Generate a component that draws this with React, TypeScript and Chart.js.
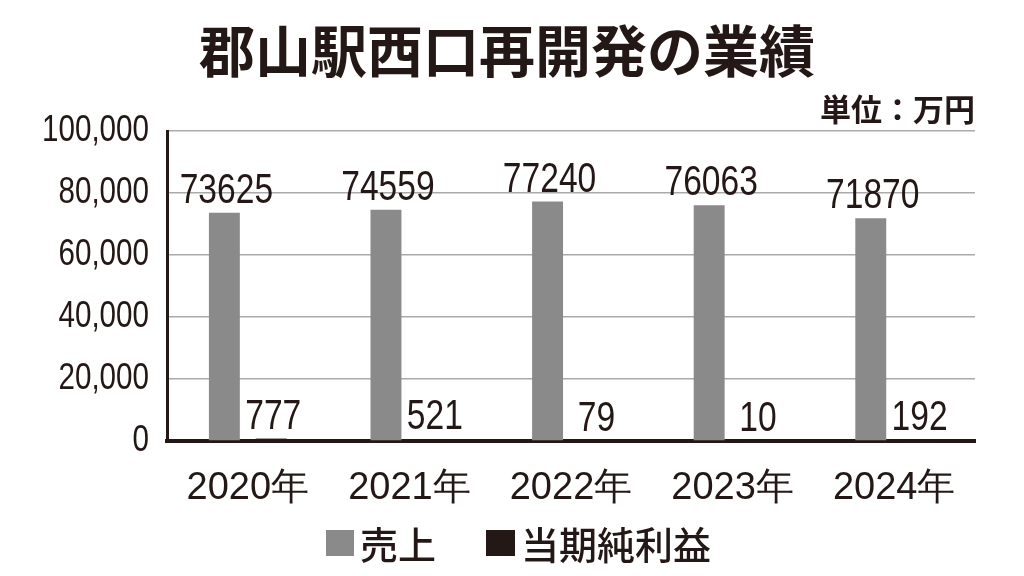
import React, { useEffect, useRef } from "react";
import { Chart, registerables } from "chart.js";

Chart.register(...registerables);

const categories = ["2020年", "2021年", "2022年", "2023年", "2024年"];
const salesValues = [73625, 74559, 77240, 76063, 71870];
const profitValues = [777, 521, 79, 10, 192];
const seriesNames = ["売上", "当期純利益"];
const chartTitle = "郡山駅西口再開発の業績";
const unitLabel = "単位：万円";

const GRAY = "#8a8a8a";
const DARK = "#231815";
const NUM_FONT = "'Liberation Sans', Arial, sans-serif";
const CJK_FONT = "'Noto Sans CJK JP', 'Noto Sans', sans-serif";
const NARROW = 0.8;

const narrowTextPlugin = {
  id: "narrowText",
  afterDraw(chart: any) {
    const ctx = chart.ctx;
    ctx.save();
    ctx.fillStyle = DARK;
    // y-axis tick labels, from the library's scale
    const ys = chart.scales.y;
    ctx.font = `37px ${NUM_FONT}`;
    ctx.textAlign = "right";
    ctx.textBaseline = "middle";
    ys.ticks.forEach((t: any, i: number) => {
      const y = ys.getPixelForTick(i);
      const label = Number(t.value).toLocaleString("en-US");
      ctx.save();
      ctx.translate(ys.right - 18, y);
      ctx.scale(NARROW, 1);
      ctx.fillText(label, 0, 0);
      ctx.restore();
    });
    // value labels above the bars
    ctx.font = `42px ${NUM_FONT}`;
    ctx.textAlign = "center";
    ctx.textBaseline = "alphabetic";
    chart.data.datasets.forEach((ds: any, i: number) => {
      const meta = chart.getDatasetMeta(i);
      meta.data.forEach((el: any, j: number) => {
        ctx.save();
        ctx.translate(el.x + 2, el.y - 10);
        ctx.scale(NARROW, 1);
        ctx.fillText(String(ds.data[j]), 0, 0);
        ctx.restore();
      });
    });
    ctx.restore();
  },
};

export default function App() {
  const canvasRef = useRef<HTMLCanvasElement | null>(null);

  useEffect(() => {
    if (!canvasRef.current) return;
    const chart = new Chart(canvasRef.current, {
      type: "bar",
      data: {
        labels: categories,
        datasets: [
          {
            label: seriesNames[0],
            data: salesValues,
            backgroundColor: GRAY,
            categoryPercentage: 0.58,
            barPercentage: 0.66,
          },
          {
            label: seriesNames[1],
            data: profitValues,
            backgroundColor: DARK,
            categoryPercentage: 0.58,
            barPercentage: 0.66,
          },
        ],
      },
      options: {
        animation: false,
        responsive: false,
        maintainAspectRatio: false,
        layout: { padding: { left: 0, right: 49, top: 131, bottom: 0 } },
        plugins: {
          legend: { display: false },
          tooltip: { enabled: false },
          title: { display: false },
        },
        scales: {
          x: {
            afterFit: (s: any) => {
              s.height = 135;
            },
            grid: { display: false, drawTicks: false },
            border: { color: DARK, width: 4 },
            ticks: {
              color: DARK,
              padding: 25,
              font: { family: NUM_FONT, size: 38 },
            },
          },
          y: {
            afterFit: (s: any) => {
              s.width = 167;
            },
            min: 0,
            max: 100000,
            grid: { color: "#aaaaaa", lineWidth: 1.5, drawTicks: false },
            border: { color: DARK, width: 3 },
            ticks: {
              stepSize: 20000,
              display: false,
            },
          },
        },
      },
      plugins: [narrowTextPlugin],
    });
    return () => chart.destroy();
  }, []);

  return (
    <div
      style={{
        position: "fixed",
        left: 0,
        top: 0,
        width: 1024,
        height: 576,
        background: "#fff",
        overflow: "hidden",
      }}
    >
      <canvas
        ref={canvasRef}
        width={1024}
        height={576}
        style={{ position: "absolute", left: 0, top: 0, width: 1024, height: 576 }}
      />
      <div
        style={{
          position: "absolute",
          left: 0,
          top: 18,
          width: 1014,
          textAlign: "center",
          fontFamily: CJK_FONT,
          fontWeight: 700,
          fontSize: 56,
          lineHeight: "60px",
          color: DARK,
        }}
      >
        {chartTitle}
      </div>
      <div
        style={{
          position: "absolute",
          right: 49,
          top: 91,
          fontFamily: CJK_FONT,
          fontWeight: 700,
          fontSize: 31,
          lineHeight: "34px",
          color: DARK,
          whiteSpace: "nowrap",
        }}
      >
        {unitLabel}
      </div>
      <div
        style={{
          position: "absolute",
          left: 326,
          top: 522,
          display: "flex",
          alignItems: "center",
          fontFamily: CJK_FONT,
          fontWeight: 500,
          fontSize: 38,
          lineHeight: "42px",
          color: DARK,
          whiteSpace: "nowrap",
        }}
      >
        <span style={{ display: "inline-block", width: 28, height: 26, background: GRAY, marginRight: 6 }} />
        <span>{seriesNames[0]}</span>
        <span style={{ display: "inline-block", width: 29, height: 26, background: DARK, marginLeft: 50, marginRight: 6 }} />
        <span>{seriesNames[1]}</span>
      </div>
    </div>
  );
}
